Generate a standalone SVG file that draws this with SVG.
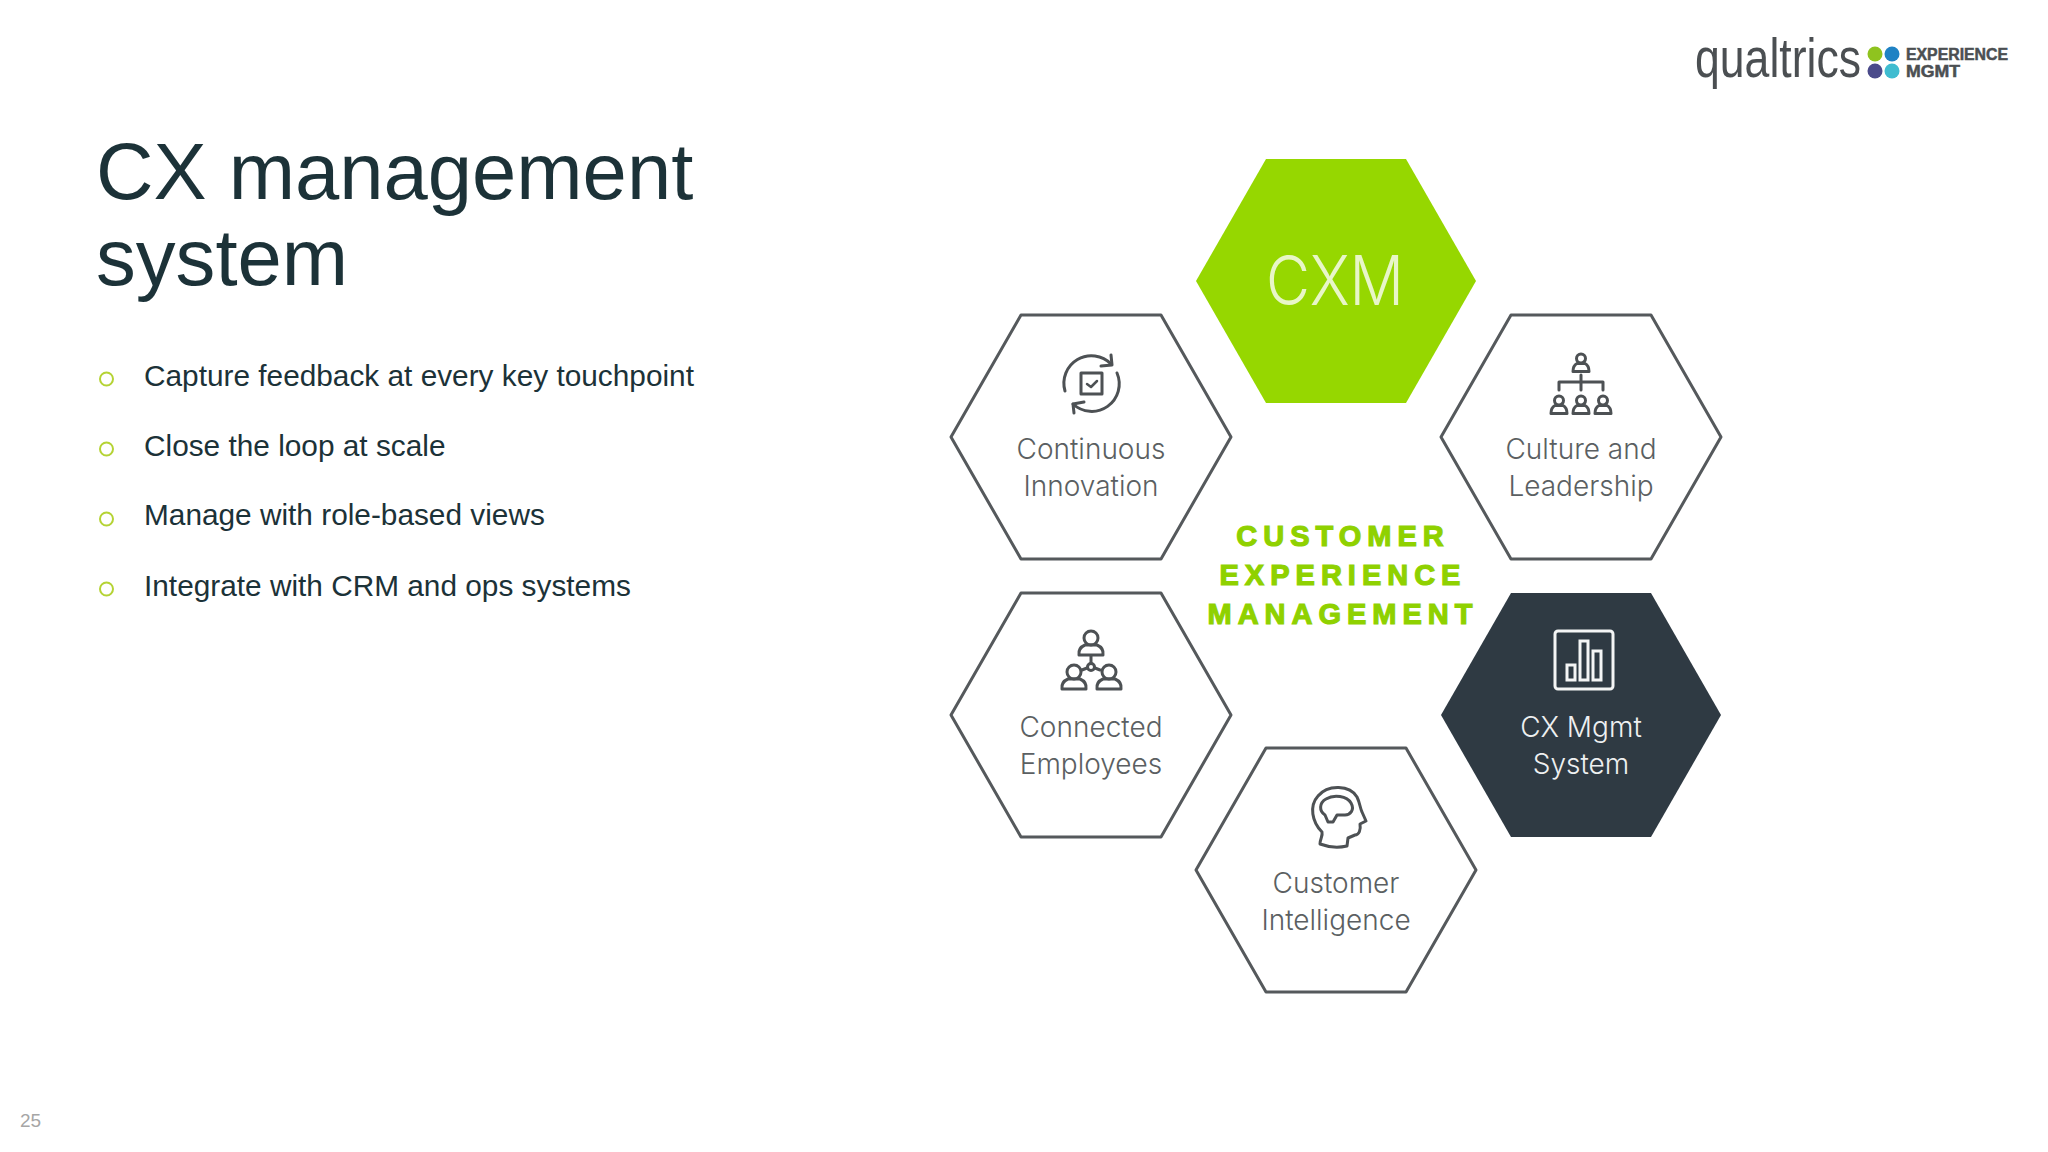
<svg xmlns="http://www.w3.org/2000/svg" width="2048" height="1152" viewBox="0 0 2048 1152">
<style>
.t{font-family:"Liberation Sans",Arial,sans-serif;fill:#1c3238}
.b{font-size:29.800px}
.h{font-size:79.600px}
.bu{fill:none;stroke:#b5d334;stroke-width:2}
.hx{fill:#fff;stroke:#55595c;stroke-width:3;stroke-linejoin:round}
.l{font-family:Inter,"Noto Sans",sans-serif;font-size:28px;fill:#5b5f62;text-anchor:middle;font-weight:300}
.ic{fill:none;stroke:#4d5154;stroke-width:3;stroke-linecap:round;stroke-linejoin:round}
.c{font-family:"Liberation Sans",Arial,sans-serif;font-weight:700;font-size:29px;fill:#8fd100;stroke:#8fd100;stroke-width:1.200;text-anchor:middle;letter-spacing:6px}
.lg{font-family:"Liberation Sans",Arial,sans-serif;font-weight:700;font-size:16px;fill:#4b4f52;stroke:#4b4f52;stroke-width:.5}
</style>
<defs>
<polygon id="hex" points="-140,0 -70,-122 70,-122 140,0 70,122 -70,122"/>
<g id="p"><circle cx="0" cy="-6" r="7"/><path d="M-12 11 q-1 -7 6 -10 h12 q7 3 6 10 z"/></g>
<g id="q"><circle cx="0" cy="-5.500" r="4.500"/><path d="M-8 7.500 q0 -6 4 -8 h8 q4 2 4 8 z"/></g>
</defs>
<rect width="2048" height="1152" fill="#fff"/>
<g id="title"><text class="t h" x="96" y="198.500">CX management</text><text class="t h" x="96" y="284.500">system</text></g>
<g id="bullets">
<circle class="bu" cx="106.500" cy="379" r="6.500"/><text class="t b" x="144" y="386">Capture feedback at every key touchpoint</text>
<circle class="bu" cx="106.500" cy="449" r="6.500"/><text class="t b" x="144" y="456">Close the loop at scale</text>
<circle class="bu" cx="106.500" cy="519" r="6.500"/><text class="t b" x="144" y="525">Manage with role-based views</text>
<circle class="bu" cx="106.500" cy="589" r="6.500"/><text class="t b" x="144" y="596">Integrate with CRM and ops systems</text>
</g>
<text x="20" y="1127" font-family="Liberation Sans,Arial,sans-serif" font-size="19" fill="#a6a6a6">25</text>
<g id="logo">
<text x="1695" y="77" font-family="Liberation Sans,Arial,sans-serif" font-size="56" fill="#4b4f52" textLength="166" lengthAdjust="spacingAndGlyphs">qualtrics</text>
<circle cx="1875" cy="54" r="7.500" fill="#8fc31f"/><circle cx="1892" cy="54" r="7.500" fill="#1f82c4"/>
<circle cx="1875" cy="71" r="7.500" fill="#4a4a8a"/><circle cx="1892" cy="71" r="7.500" fill="#3fbcd0"/>
<text class="lg" x="1906" y="60" textLength="102" lengthAdjust="spacingAndGlyphs">EXPERIENCE</text>
<text class="lg" x="1906" y="77" textLength="54" lengthAdjust="spacingAndGlyphs">MGMT</text>
</g>
<g id="connectors"/>
<g id="cxm"><use href="#hex" x="1336" y="281" fill="#96d700"/>
<text x="1335" y="305" text-anchor="middle" font-family="Inter,Noto Sans,sans-serif" font-weight="300" font-size="68" fill="#e8f6c8" textLength="138" lengthAdjust="spacingAndGlyphs">CXM</text></g>
<g id="continuous"><use href="#hex" x="1091" y="437" class="hx"/>
<g class="ic"><path d="M1065 391 A27.500 27.500 0 0 1 1111 364"/><path d="M1111 355 L1112 365 L1101 366"/><path d="M1117 373 A27.500 27.500 0 0 1 1073 404"/><path d="M1074 413 L1073 404 L1084 402"/><rect x="1081" y="373" width="21" height="21"/><path d="M1087 384 l4 3 l6 -6" stroke-width="2.500"/></g>
<text class="l" x="1091" y="459">Continuous</text><text class="l" x="1091" y="496">Innovation</text></g>
<g id="culture"><use href="#hex" x="1581" y="437" class="hx"/>
<g class="ic" stroke-width="2.500"><use href="#q" x="1581" y="364"/><use href="#q" x="1559" y="406"/><use href="#q" x="1581" y="406"/><use href="#q" x="1603" y="406"/><path d="M1559 390 v-8 h44 v8 M1581 375 v15"/></g>
<text class="l" x="1581" y="459">Culture and</text><text class="l" x="1581" y="496">Leadership</text></g>
<g id="connected"><use href="#hex" x="1091" y="715" class="hx"/>
<g class="ic"><use href="#p" x="1091" y="644"/><use href="#p" x="1074" y="678"/><use href="#p" x="1109" y="678"/><circle cx="1091" cy="667" r="3.500"/><path d="M1091 656 v7 M1087 668 l-5 2 M1095 668 l5 2"/></g>
<text class="l" x="1091" y="737">Connected</text><text class="l" x="1091" y="774">Employees</text></g>
<g id="cxmgmt"><use href="#hex" x="1581" y="715" fill="#2f3a43"/>
<g fill="none" stroke="#f4f5f5" stroke-width="3"><rect x="1555" y="631" width="58" height="58" rx="3"/><rect x="1567" y="665" width="8" height="15"/><rect x="1580" y="641" width="8" height="39"/><rect x="1593" y="651" width="8" height="29"/></g>
<text class="l" x="1581" y="737" style="fill:#eef0f1">CX Mgmt</text><text class="l" x="1581" y="774" style="fill:#eef0f1">System</text></g>
<g id="intelligence"><use href="#hex" x="1336" y="870" class="hx"/>
<g class="ic"><path d="M1322 832 C1312 822 1309 806 1318 796 C1328 784 1350 785 1357 797 C1360 803 1360 808 1362 812 L1366 821 L1360 824 C1361 830 1359 835 1355 835 L1348 838 L1347 846 C1338 848 1328 847 1320 844 C1320 839 1323 836 1322 832 Z"/><path d="M1333 822 L1328 822 L1325 815 C1319 811 1319 803 1326 799 C1334 794 1347 796 1351 803 C1355 810 1350 815 1345 815 L1337 815 Z"/></g>
<text class="l" x="1336" y="893">Customer</text><text class="l" x="1336" y="930">Intelligence</text></g>
<g id="center"><text class="c" x="1343" y="546">CUSTOMER</text><text class="c" x="1343" y="585">EXPERIENCE</text><text class="c" x="1343" y="624">MANAGEMENT</text></g>
</svg>
